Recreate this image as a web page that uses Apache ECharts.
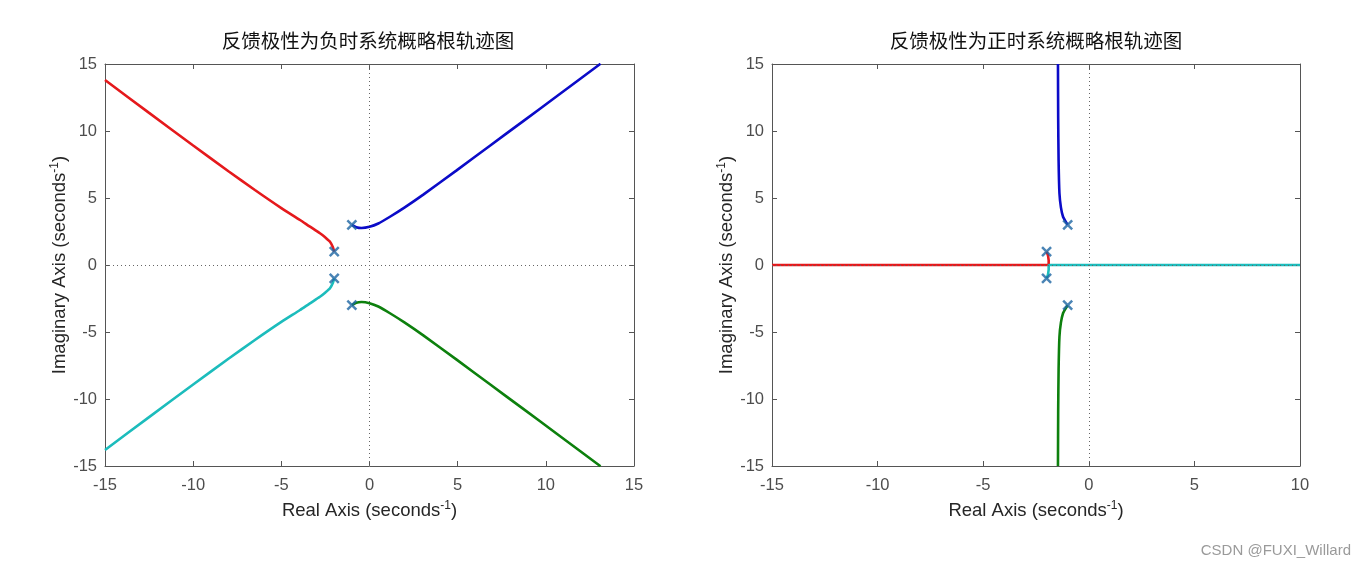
<!DOCTYPE html>
<html>
<head>
<meta charset="utf-8">
<script src="https://cdn.jsdelivr.net/npm/echarts@6/dist/echarts.min.js"></script>
<style>
html,body{margin:0;padding:0;background:#fff;}
#chart{width:1366px;height:570px;}
</style>
</head>
<body>
<div id="chart"></div>
<script>
// ---------- data ----------
const titles = ['反馈极性为负时系统概略根轨迹图', '反馈极性为正时系统概略根轨迹图'];
const xNameText = 'Real Axis (seconds';
const yNameText = 'Imaginary Axis (seconds';
const supText = '-1';
const watermark = 'CSDN @FUXI_Willard';

const leftXRange = [-15, 15];
const rightXRange = [-15, 10];
const yRange = [-15, 15];
const tickStep = 5;

const poles = [[-2, 1], [-2, -1], [-1, 3], [-1, -3]];

// negative feedback branches
const negRed = [[-2,1],[-2.08,1.35],[-2.24,1.74],[-2.5,2.05],[-2.81,2.37],[-3.4,2.88],[-3.94,3.36],[-5,4.25],[-6.5,5.6],[-8,7.0],[-10,8.92],[-12.5,11.35],[-15,13.8]];
const negCyan = [[-2,-1],[-2.08,-1.35],[-2.24,-1.74],[-2.5,-2.05],[-2.81,-2.37],[-3.4,-2.88],[-3.94,-3.36],[-5,-4.25],[-6.5,-5.6],[-8,-7.0],[-10,-8.92],[-12.5,-11.35],[-15,-13.8]];
const negBlue = [[-1,3],[-0.75,2.82],[-0.45,2.76],[0,2.85],[0.5,3.1],[1.16,3.6],[2,4.3],[3.05,5.25],[4.94,7.06],[6.83,8.9],[8.72,10.74],[10.62,12.59],[13.1,15.02]];
const negGreen = [[-1,-3],[-0.75,-2.82],[-0.45,-2.76],[0,-2.85],[0.5,-3.1],[1.16,-3.6],[2,-4.3],[3.05,-5.25],[4.94,-7.06],[6.83,-8.9],[8.72,-10.74],[10.62,-12.59],[13.1,-15.02]];

// positive feedback branches
const posRed = [[-2,1],[-1.93,0.7],[-1.9,0.35],[-1.9,0],[-15,0]];
const posCyan = [[-2,-1],[-1.93,-0.7],[-1.9,-0.35],[-1.9,0],[10,0]];
const posBlue = [[-1,3],[-1.1,3.25],[-1.22,3.6],[-1.32,4.3],[-1.39,5.35],[-1.43,7.8],[-1.45,11],[-1.46,15]];
const posGreen = [[-1,-3],[-1.1,-3.25],[-1.22,-3.6],[-1.32,-4.3],[-1.39,-5.35],[-1.43,-7.8],[-1.45,-11],[-1.46,-15]];

// ---------- styling ----------
const AX = '#555555';
const LBL = '#4d4d4d';
const NAMEC = '#262626';
const FONT = '"Liberation Sans", Arial, sans-serif';
const COL = {red:'#e5191c', cyan:'#1cbcbc', blue:'#0b0bc8', green:'#0d800d', pole:'#1d65a3'};

const grids = [
  {left:105, top:64, width:529, height:402},
  {left:772, top:64, width:528, height:402}
];

const nameRich = {
  a:{fontSize:18.5, color:NAMEC, fontFamily:FONT, lineHeight:22},
  s:{fontSize:12, color:NAMEC, fontFamily:FONT, verticalAlign:'top', lineHeight:12}
};
const nameStr = t => '{a|' + t + '}{s|' + supText + '}{a|)}';

function xAxes(g, range) {
  const base = {
    type:'value', gridIndex:g, min:range[0], max:range[1], interval:tickStep,
    axisLine:{show:true, onZero:false, lineStyle:{color:AX, width:1}},
    axisTick:{show:true, inside:true, length:5, lineStyle:{color:AX, width:1}},
    splitLine:{show:false}
  };
  return [
    Object.assign({}, base, {
      position:'bottom',
      axisLabel:{color:LBL, fontSize:16.5, fontFamily:FONT, margin:11},
      name:nameStr(xNameText), nameLocation:'middle', nameGap:34,
      nameTextStyle:{rich:nameRich}
    }),
    Object.assign({}, base, {position:'top', axisLabel:{show:false}})
  ];
}
function yAxes(g, range) {
  const base = {
    type:'value', gridIndex:g, min:range[0], max:range[1], interval:tickStep,
    axisLine:{show:true, onZero:false, lineStyle:{color:AX, width:1}},
    axisTick:{show:true, inside:true, length:5, lineStyle:{color:AX, width:1}},
    splitLine:{show:false}
  };
  return [
    Object.assign({}, base, {
      position:'left',
      axisLabel:{color:LBL, fontSize:16.5, fontFamily:FONT, margin:8},
      name:nameStr(yNameText), nameLocation:'middle', nameGap:30, nameRotate:90,
      nameTextStyle:{rich:nameRich}
    }),
    Object.assign({}, base, {position:'right', axisLabel:{show:false}})
  ];
}

const xAxis = [...xAxes(0, leftXRange), ...xAxes(1, rightXRange)];
const yAxis = [...yAxes(0, yRange), ...yAxes(1, yRange)];

function branch(data, color, xi, yi) {
  return {
    type:'line', data:data, xAxisIndex:xi, yAxisIndex:yi,
    showSymbol:false, symbol:'none', smooth:0.2, z:3,
    lineStyle:{color:color, width:2.6}, silent:true, animation:false
  };
}
function zeroLines(xi, yi) {
  return {
    type:'line', data:[], xAxisIndex:xi, yAxisIndex:yi, z:1, silent:true, animation:false,
    markLine:{
      silent:true, symbol:['none','none'], animation:false,
      label:{show:false},
      lineStyle:{color:'#666', type:[1,3], width:1},
      emphasis:{disabled:true},
      data:[{xAxis:0},{yAxis:0}]
    }
  };
}
function poleSeries(xi, yi) {
  return {
    type:'scatter', data:poles, xAxisIndex:xi, yAxisIndex:yi, z:5, silent:true, animation:false,
    symbol:'path://M0,0L10,10M10,0L0,10', symbolSize:9,
    itemStyle:{color:'none', borderColor:COL.pole, borderWidth:2.5}
  };
}

const series = [
  zeroLines(0,0),
  branch(negRed, COL.red, 0, 0),
  branch(negCyan, COL.cyan, 0, 0),
  branch(negBlue, COL.blue, 0, 0),
  branch(negGreen, COL.green, 0, 0),
  poleSeries(0,0),
  zeroLines(2,2),
  Object.assign(branch(posRed, COL.red, 2, 2), {smooth:false}),
  Object.assign(branch(posCyan, COL.cyan, 2, 2), {smooth:false}),
  branch(posBlue, COL.blue, 2, 2),
  branch(posGreen, COL.green, 2, 2),
  poleSeries(2,2)
];

const titleFont = '"Noto Sans CJK SC", sans-serif';
const graphic = [
  {type:'text', x:368, y:41, style:{text:titles[0], align:'center', verticalAlign:'middle', fill:'#111', font:'19.5px ' + titleFont}},
  {type:'text', x:1036, y:41, style:{text:titles[1], align:'center', verticalAlign:'middle', fill:'#111', font:'19.5px ' + titleFont}},
  {type:'text', x:1351, y:551, style:{text:watermark, align:'right', verticalAlign:'middle', fill:'#9a9a9a', font:'15px ' + FONT}}
];

const chart = echarts.init(document.getElementById('chart'), null, {renderer:'canvas'});
chart.setOption({
  animation:false,
  backgroundColor:'#fff',
  grid:grids,
  xAxis:xAxis,
  yAxis:yAxis,
  series:series,
  graphic:graphic
});
</script>
</body>
</html>
